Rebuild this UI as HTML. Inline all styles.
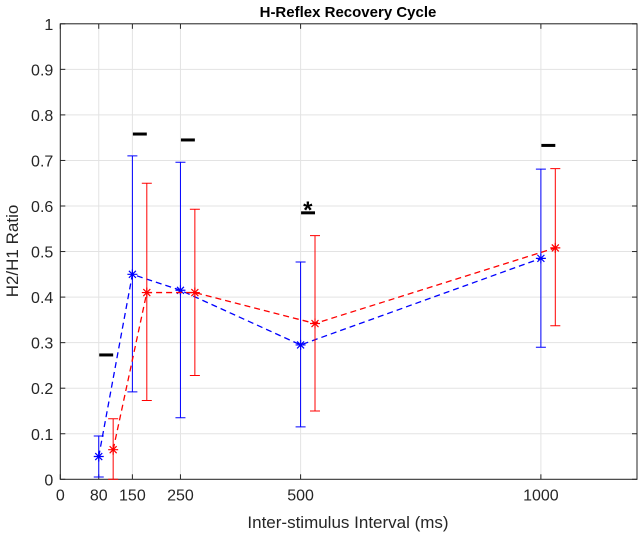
<!DOCTYPE html>
<html><head><meta charset="utf-8"><style>
body{margin:0;background:#fff;font-family:"Liberation Sans",Arial,sans-serif}
svg text{font-family:"Liberation Sans",Arial,sans-serif}
</style></head><body>
<svg id="chart" width="640" height="538" xmlns="http://www.w3.org/2000/svg">
<rect width="640" height="538" fill="#fff"/>
<g id="grid"></g><g id="axes"></g><g id="series"></g><g id="sig"></g>
<text x="348" y="17" text-anchor="middle" font-size="15" font-weight="bold">H-Reflex Recovery Cycle</text>
<text x="348" y="528" text-anchor="middle" font-size="17" fill="#262626">Inter-stimulus Interval (ms)</text>
<text transform="translate(18,251) rotate(-90)" text-anchor="middle" font-size="17" fill="#262626">H2/H1 Ratio</text>
</svg>
<script>
const xTicks=[0,80,150,250,500,1000];
const yTicks=[0,0.1,0.2,0.3,0.4,0.5,0.6,0.7,0.8,0.9,1];
const blueX=[80,150,250,500,1000];
const blueY=[0.05,0.45,0.415,0.295,0.485];
const blueLo=[0.005,0.192,0.135,0.115,0.29];
const blueHi=[0.095,0.71,0.696,0.477,0.681];
const redX=[110,180,280,530,1030];
const redY=[0.065,0.41,0.41,0.342,0.508];
const redLo=[0,0.173,0.228,0.15,0.337];
const redHi=[0.133,0.65,0.593,0.535,0.682];
const sigX=[80,150,250,500,1000];
const sigY=[0.273,0.758,0.745,0.585,0.733];
const sigStar=[false,false,false,true,false];
const L=60.3,R=637,T=23.8,B=479.3,XMAX=1200;
const sx=v=>L+v/XMAX*(R-L), sy=v=>B-v*(B-T);
const NS='http://www.w3.org/2000/svg';
function mk(p,t,a){const e=document.createElementNS(NS,t);for(const k in a)e.setAttribute(k,a[k]);document.getElementById(p).appendChild(e);return e;}
xTicks.forEach(v=>{
 let g=mk('grid','line',{x1:sx(v),x2:sx(v),y1:T,y2:B,stroke:'#e3e3e3'});
 
 
 let t=mk('axes','text',{x:sx(v),y:B+21,'text-anchor':'middle','font-size':'16',fill:'#262626'});t.textContent=v;
 
 
 mk('axes','line',{x1:sx(v),x2:sx(v),y1:B,y2:B-5,stroke:'#262626'});
 mk('axes','line',{x1:sx(v),x2:sx(v),y1:T,y2:T+5,stroke:'#262626'});
});
yTicks.forEach(v=>{
 let g=mk('grid','line',{x1:L,x2:R,y1:sy(v),y2:sy(v),stroke:'#e3e3e3'});
 
 
 let t=mk('axes','text',{x:L-7,y:sy(v)+6,'text-anchor':'end','font-size':'16',fill:'#262626'});t.textContent=v;
 
 
 mk('axes','line',{x1:L,x2:L+5,y1:sy(v),y2:sy(v),stroke:'#262626'});
 mk('axes','line',{x1:R,x2:R-5,y1:sy(v),y2:sy(v),stroke:'#262626'});
});
let fr=mk('axes','rect',{x:L,y:T,width:R-L,height:B-T,fill:'none',stroke:'#262626'});


function series(xs,ys,lo,hi,col,name){
 let pl=mk('series','polyline',{points:xs.map((x,i)=>sx(x)+','+sy(ys[i])).join(' '),fill:'none',stroke:col,'stroke-width':1.3,'stroke-dasharray':'6,4'});
 
 
 xs.forEach((x,i)=>{
  const X=sx(x);
  let e=mk('series','path',{d:`M${X},${sy(lo[i])}V${sy(hi[i])}M${X-5},${sy(lo[i])}h10M${X-5},${sy(hi[i])}h10`,stroke:col,fill:'none','stroke-width':1});
  
  
  const Y=sy(ys[i]);
  let m=mk('series','path',{d:`M${X-5},${Y}h10M${X},${Y-5}v10M${X-3.5},${Y-3.5}l7,7M${X-3.5},${Y+3.5}l7,-7`,stroke:col,'stroke-width':1.2});
  
  
 });
}
series(blueX,blueY,blueLo,blueHi,'#0000ff','blue');
series(redX,redY,redLo,redHi,'#ff0000','red');
sigX.forEach((x,i)=>{
 let r=mk('sig','rect',{x:sx(x+1),y:sy(sigY[i])-1.5,width:sx(x+30)-sx(x+1),height:3,fill:'#000'});
 
 
 if(sigStar[i]){let s=mk('sig','text',{x:sx(x+15),y:sy(sigY[i])+5,'text-anchor':'middle','font-size':'24','font-weight':'bold'});s.textContent='*';
  
  }
});
</script>
</body></html>
